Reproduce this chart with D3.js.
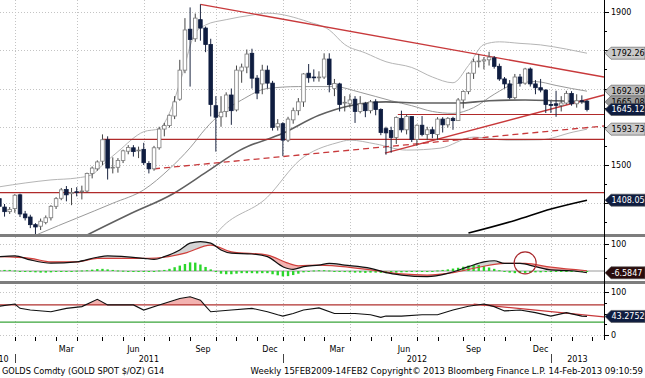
<!DOCTYPE html>
<html>
<head>
<meta charset="utf-8">
<script src="https://cdn.jsdelivr.net/npm/d3@7"></script>
<style>
body { margin: 0; background: #fff; }
svg { display: block; font-family: "DejaVu Sans", Verdana, sans-serif; }
</style>
</head>
<body>
<div id="chart"></div>
<script>
// ---- data (weekly bars, first bar = week ending 10 Dec 2010) ----
var firstWeek = Date.UTC(2010, 11, 10);

var candleOpen = [1412,1390,1378,1386,1422,1372,1364,1344,1340,1350,1362,1392,1413,1436,1425,1430,1430,1432,1478,1490,
  1510,1566,1492,1494,1512,1536,1545,1537,1541,1504,1490,1545,1594,1603,1628,1672,1748,1855,1830,1880,
  1858,1815,1655,1626,1640,1683,1644,1746,1756,1792,1727,1712,1748,1714,1600,1608,1565,1618,1642,1665,
  1740,1730,1728,1730,1777,1700,1712,1662,1660,1672,1640,1660,1642,1665,1645,1595,1590,1572,1622,1592,
  1627,1567,1604,1580,1592,1580,1620,1605,1622,1616,1670,1692,1740,1770,1772,1775,1780,1758,1725,1712,
  1676,1730,1714,1751,1712,1702,1696,1658,1660,1656,1662,1687,1660,1668,1667];
var candleHigh = [1418,1398,1390,1424,1425,1380,1370,1348,1360,1368,1395,1416,1440,1445,1440,1442,1446,1480,1496,1512,
  1580,1575,1520,1518,1540,1552,1552,1548,1558,1510,1550,1600,1610,1632,1680,1775,1884,1912,1896,1920,
  1862,1830,1680,1680,1690,1700,1760,1765,1802,1804,1735,1762,1760,1720,1620,1612,1626,1650,1675,1740,
  1764,1750,1745,1792,1792,1725,1715,1680,1685,1680,1680,1665,1670,1672,1648,1600,1600,1627,1642,1632,
  1628,1606,1628,1600,1600,1625,1625,1625,1626,1675,1695,1742,1778,1790,1782,1796,1785,1765,1730,1722,
  1738,1738,1754,1755,1722,1725,1698,1668,1694,1680,1694,1693,1685,1682,1670];
var candleLow = [1380,1365,1372,1375,1364,1355,1335,1318,1330,1345,1355,1385,1408,1405,1395,1418,1410,1428,1465,1485,
  1500,1462,1478,1480,1505,1528,1522,1518,1500,1478,1485,1540,1575,1598,1620,1668,1740,1705,1822,1825,
  1795,1627,1535,1600,1625,1605,1640,1715,1740,1700,1672,1685,1700,1590,1590,1523,1560,1608,1630,1652,
  1715,1718,1718,1725,1690,1680,1640,1640,1650,1610,1635,1625,1635,1630,1578,1527,1532,1555,1585,1580,
  1560,1550,1575,1565,1570,1565,1585,1598,1592,1615,1648,1685,1725,1755,1750,1760,1752,1720,1700,1672,
  1672,1705,1710,1705,1685,1690,1636,1636,1626,1640,1658,1655,1650,1660,1640];
var candleClose = [1392,1378,1384,1421,1372,1362,1344,1338,1353,1362,1392,1412,1435,1422,1428,1429,1432,1478,1492,1508,
  1566,1492,1494,1512,1537,1546,1535,1539,1506,1490,1545,1594,1603,1630,1665,1748,1853,1828,1884,1858,
  1815,1658,1625,1638,1683,1642,1748,1756,1790,1727,1688,1748,1714,1598,1608,1565,1620,1642,1665,1738,
  1728,1728,1730,1777,1710,1713,1658,1664,1670,1640,1660,1642,1665,1645,1585,1584,1572,1624,1592,1627,
  1567,1604,1580,1592,1582,1620,1605,1622,1616,1670,1692,1740,1770,1772,1775,1782,1758,1725,1712,1676,
  1730,1714,1751,1712,1702,1696,1658,1657,1656,1662,1687,1660,1668,1667,1645.12];

// overlay studies, [week number, value]
var upperBand = [[0,1443],[5,1453],[10,1461],[15,1466],[18,1475],[20,1500],[23,1535],[28,1587],[31,1595],[33,1636],
  [35,1714],[38,1845],[40,1866],[44,1880],[49,1892],[52,1897],[60,1874],[64,1853],[67,1815],[71,1793],[75,1770],
  [80,1755],[84,1730],[88,1715],[91,1760],[94,1815],[97,1822],[101,1818],[105,1814],[110,1803],[114,1792.26]];
var midBand = [[7,1316],[8,1322],[15,1361],[22,1400],[28,1435],[33,1490],[37,1545],[40,1595],[43,1635],[47,1670],
  [52,1700],[58,1705],[65,1705],[70,1690],[76,1668],[80,1655],[84,1640],[88,1635],[92,1650],[96,1685],[100,1712],
  [104,1718],[108,1708],[111,1700],[114,1692.99]];
var lowerBand = [[41,1300],[42.2,1322],[52,1416],[58.3,1513],[65.5,1558],[68,1565],[73,1555],[79,1539],[85.5,1544],
  [92,1573],[98.5,1565],[105,1566],[111.3,1586],[114,1593.73]];
var ma52 = [[16,1310],[17.6,1321],[25,1370],[33.7,1425],[40,1480],[46.7,1539],[55,1583],[62,1630],[68,1655],[75,1665],
  [82,1662],[89,1662],[95,1668],[102,1670],[108,1668],[114,1665.08]];
var ma200 = [[91,1322],[100,1355],[107,1385],[114,1408.05]];

// hand drawn lines, [week number, price]
var trendDown = [[39,1920],[117.3,1730]];
var trendUp = [[74.8,1531],[117.3,1683]];
var trendDashed = [[30,1490],[117.3,1602]];
var levelLines = [[20,1567],[77.3,1632],[-5,1428]];

// MACD panel, [week number, value]
var macdLine = [[0,53],[3,56],[6,41],[10,29],[15,34],[19,51],[21,56],[28,47],[30,43],[32,53],[35,78],[37,103],
  [39,109],[41,103],[43,78],[45,66],[49,63],[52,53],[55,16],[57,6],[59,16],[62,22],[64,28],[67,22],[72,10],
  [75,-6],[78,-15],[83,-21],[87,-9],[91,16],[94,34],[96,38],[98,28],[101,28],[104,16],[107,4],[111,1],[114,-6.5847]];
var signalLine = [[0,53],[6,47],[10,34],[15,34],[19,47],[29,47],[32,51],[36,66],[41,96],[45,71],[52,59],[56,29],
  [58,19],[62,22],[65,19],[72,4],[78,-11],[83,-15],[88,-6],[93,14],[98,28],[102,28],[107,14],[114,1]];
var macdHist = [3,4,4,2,0,-2,-4,-5,-6,-6,-5,-3,-2,-1,0,1,2,3,5,7,
  8,6,4,2,1,0,-1,-2,-2,-1,0,2,4,8,14,20,26,32,31,24,
  15,6,-4,-10,-12,-12,-10,-8,-8,-8,-9,-8,-8,-12,-16,-20,-19,-15,-10,-5,
  -1,2,3,3,2,0,-2,-4,-5,-6,-6,-7,-6,-6,-7,-8,-7,-6,-5,-4,
  -3,-2,-2,-1,0,2,4,6,9,12,16,20,22,22,18,13,8,3,-2,-6,
  -8,-8,-7,-6,-5,-5,-4,-4,-3,-3,-3,-2,-2,-3,-3];
var macdCircle = [102, 30];

// RSI panel, [week number, value]
var rsiLine = [[0,67],[3,72],[4,62],[6,58],[10,54],[13,62],[16,66],[19,83],[21,70],[26,70],[28,58],[31,70],[35,85],
  [37,89],[39,81],[40,67],[41,54],[45,58],[49,62],[52,54],[54,47],[55,44],[57,50],[59,58],[62,63],[65,50],[69,50],
  [72,47],[74,41],[75,44],[78,44],[82,47],[85,47],[88,58],[91,67],[94,72],[96,66],[98,56],[101,58],[104,52],[107,44],
  [110,52],[113,44],[114,43.2752]];
var rsiTrend = [[92,72],[117.3,42]];
var rsiLevels = [70, 30];

var priceTicks = [1400,1500,1600,1700,1800,1900];
var priceLabels = [1900, 1500];
var priceMinor = [1350,1450,1550,1650,1750,1850];

// ---- layout ----
var W = 645, H = 378, axisX = 604;
var weekMs = 7 * 864e5;
function weekDate(k) { return new Date(firstWeek + k * weekMs); }

var x = d3.scaleUtc().domain([weekDate(4), weekDate(114)]).range([20, 587]);
function xk(k) { return x(weekDate(k)); }
// time marks sit on the last weekly bar dated before the given day
function xSnap(d) { return xk(Math.ceil((d.getTime() - firstWeek) / weekMs) - 1); }
var yMain = d3.scaleLinear().domain([1400, 1900]).range([203.25, 12]);
var yMacd = d3.scaleLinear().domain([0, 100]).range([271, 244]);
var yRsi = d3.scaleLinear().domain([0, 100]).range([335, 292]);

var svg = d3.select("#chart").append("svg").attr("width", W).attr("height", H);

var defs = svg.append("defs");
function clip(id, y0, y1) {
  defs.append("clipPath").attr("id", id).append("rect")
    .attr("x", 0).attr("y", y0).attr("width", axisX).attr("height", y1 - y0);
}
clip("clipMain", 0, 234);
clip("clipMacd", 237, 281);
clip("clipRsi", 284, 337);

// ---- grid ----
var grid = svg.append("g").attr("stroke", "#c4c4c4").attr("stroke-dasharray", "1,2").attr("stroke-width", 1);
var quarters = d3.utcMonth.every(3).range(new Date(Date.UTC(2010, 9, 1)), new Date(Date.UTC(2013, 3, 1)))
  .filter(function(d) { return xSnap(d) > 0 && xSnap(d) < axisX; });
quarters.forEach(function(d) {
  var gx = Math.round(xSnap(d)) + 0.5;
  grid.append("line").attr("x1", gx).attr("x2", gx).attr("y1", 0).attr("y2", 336);
});
priceTicks.forEach(function(p) {
  grid.append("line").attr("x1", 0).attr("x2", axisX).attr("y1", Math.round(yMain(p)) + 0.5).attr("y2", Math.round(yMain(p)) + 0.5);
});
[yMacd(100), yRsi(100), yRsi(0)].forEach(function(gy) {
  grid.append("line").attr("x1", 0).attr("x2", axisX).attr("y1", Math.round(gy) + 0.5).attr("y2", Math.round(gy) + 0.5);
});

// ---- main panel ----
var main = svg.append("g").attr("clip-path", "url(#clipMain)");

var studyLine = d3.line().x(function(d) { return xk(d[0]); }).y(function(d) { return yMain(d[1]); }).curve(d3.curveMonotoneX);
main.append("path").attr("d", studyLine(upperBand)).attr("fill", "none").attr("stroke", "#b5b5b5").attr("stroke-width", 1);
main.append("path").attr("d", studyLine(lowerBand)).attr("fill", "none").attr("stroke", "#b5b5b5").attr("stroke-width", 1);
main.append("path").attr("d", studyLine(midBand)).attr("fill", "none").attr("stroke", "#9a9a9a").attr("stroke-width", 1);
main.append("path").attr("d", studyLine(ma52)).attr("fill", "none").attr("stroke", "#606060").attr("stroke-width", 1.6);
main.append("path").attr("d", studyLine(ma200)).attr("fill", "none").attr("stroke", "#000").attr("stroke-width", 1.6);

// red annotations
var straight = d3.line().x(function(d) { return xk(d[0]); }).y(function(d) { return yMain(d[1]); });
main.append("path").attr("d", straight(trendDown)).attr("stroke", "#c8393b").attr("stroke-width", 1.3).attr("fill", "none");
main.append("path").attr("d", straight(trendUp)).attr("stroke", "#c8393b").attr("stroke-width", 1.3).attr("fill", "none");
main.append("path").attr("d", straight(trendDashed)).attr("stroke", "#c8393b").attr("stroke-width", 1.3)
  .attr("stroke-dasharray", "6,4").attr("fill", "none");
levelLines.forEach(function(l) {
  main.append("line").attr("x1", xk(l[0])).attr("x2", axisX).attr("y1", yMain(l[1])).attr("y2", yMain(l[1]))
    .attr("stroke", "#b02a2a").attr("stroke-width", 1.2);
});

// candles
var bodyW = 3.6;
var candles = main.append("g");
candleOpen.forEach(function(o, k) {
  var c = candleClose[k], cx = xk(k), up = c >= o;
  candles.append("line").attr("x1", cx).attr("x2", cx)
    .attr("y1", yMain(candleHigh[k])).attr("y2", yMain(candleLow[k]))
    .attr("stroke", up ? "#444" : "#1b2540").attr("stroke-width", 1);
  var top = yMain(Math.max(o, c)), bot = yMain(Math.min(o, c));
  candles.append("rect").attr("x", cx - bodyW / 2).attr("y", top)
    .attr("width", bodyW).attr("height", Math.max(bot - top, 0.8))
    .attr("fill", up ? "#fff" : "#0f1d40").attr("stroke", up ? "#7b7b7b" : "#0f1d40").attr("stroke-width", 0.8);
});

// ---- MACD panel ----
var macd = svg.append("g").attr("clip-path", "url(#clipMacd)");
var mLine = d3.line().x(function(d) { return xk(d[0]); }).y(function(d) { return yMacd(d[1]); }).curve(d3.curveMonotoneX);
var areaTop = d3.area().x(function(d) { return xk(d[0]); }).y0(237).y1(function(d) { return yMacd(d[1]); }).curve(d3.curveMonotoneX);
var areaBot = d3.area().x(function(d) { return xk(d[0]); }).y0(281).y1(function(d) { return yMacd(d[1]); }).curve(d3.curveMonotoneX);
defs.append("clipPath").attr("id", "belowMacd").append("path").attr("d", areaBot(macdLine));
defs.append("clipPath").attr("id", "aboveMacd").append("path").attr("d", areaTop(macdLine));
// macd above signal -> grey, below -> pink
macd.append("g").attr("clip-path", "url(#belowMacd)").append("path").attr("d", areaTop(signalLine)).attr("fill", "#d4d4d4");
macd.append("g").attr("clip-path", "url(#aboveMacd)").append("path").attr("d", areaBot(signalLine)).attr("fill", "#f3b2b0");

macd.append("line").attr("x1", 0).attr("x2", axisX).attr("y1", yMacd(0)).attr("y2", yMacd(0))
  .attr("stroke", "#9a9a9a").attr("stroke-width", 1);
macdHist.forEach(function(h, k) {
  var y0 = yMacd(0), y1 = yMacd(h);
  macd.append("rect").attr("x", xk(k) - 1.2).attr("y", Math.min(y0, y1)).attr("width", 2.4)
    .attr("height", Math.max(Math.abs(y1 - y0), 1)).attr("fill", "#2bd62b");
});
macd.append("path").attr("d", mLine(signalLine)).attr("fill", "none").attr("stroke", "#d0403c").attr("stroke-width", 1.2);
macd.append("path").attr("d", mLine(macdLine)).attr("fill", "none").attr("stroke", "#111").attr("stroke-width", 1.2);
macd.append("circle").attr("cx", xk(macdCircle[0])).attr("cy", yMacd(macdCircle[1])).attr("r", 11)
  .attr("fill", "none").attr("stroke", "#a8262a").attr("stroke-width", 1.1);

// ---- RSI panel ----
var rsi = svg.append("g").attr("clip-path", "url(#clipRsi)");
var rLine = d3.line().x(function(d) { return xk(d[0]); }).y(function(d) { return yRsi(d[1]); });
defs.append("clipPath").attr("id", "over70").append("rect").attr("x", 0).attr("y", 284).attr("width", axisX).attr("height", yRsi(70) - 284);
rsi.append("path").attr("clip-path", "url(#over70)")
  .attr("d", d3.area().x(function(d) { return xk(d[0]); }).y0(yRsi(70)).y1(function(d) { return yRsi(d[1]); })(rsiLine))
  .attr("fill", "#f3b2b0");
rsi.append("line").attr("x1", 0).attr("x2", axisX).attr("y1", yRsi(rsiLevels[0])).attr("y2", yRsi(rsiLevels[0]))
  .attr("stroke", "#b0302e").attr("stroke-width", 1.2);
rsi.append("line").attr("x1", 0).attr("x2", axisX).attr("y1", yRsi(rsiLevels[1])).attr("y2", yRsi(rsiLevels[1]))
  .attr("stroke", "#3aa43a").attr("stroke-width", 1.2);
rsi.append("path").attr("d", rLine(rsiTrend)).attr("fill", "none").attr("stroke", "#c8393b").attr("stroke-width", 1.2);
rsi.append("path").attr("d", rLine(rsiLine)).attr("fill", "none").attr("stroke", "#111").attr("stroke-width", 1.1);

// ---- panel separators & right axis ----
svg.append("rect").attr("x", 0).attr("y", 234).attr("width", W).attr("height", 3).attr("fill", "#7d7d7d");
svg.append("rect").attr("x", 0).attr("y", 281).attr("width", W).attr("height", 3).attr("fill", "#7d7d7d");
svg.append("line").attr("x1", axisX + 0.5).attr("x2", axisX + 0.5).attr("y1", 0).attr("y2", 340).attr("stroke", "#000");

var axisG = svg.append("g").attr("font-size", 8).attr("fill", "#000");
function rTick(y, len) {
  axisG.append("line").attr("x1", axisX).attr("x2", axisX + len).attr("y1", Math.round(y) + 0.5).attr("y2", Math.round(y) + 0.5).attr("stroke", "#000");
}
function rLabel(y, t) {
  axisG.append("text").attr("x", axisX + 7).attr("y", y).attr("dy", "0.35em").text(t);
}
priceTicks.forEach(function(p) { rTick(yMain(p), 5); });
priceLabels.forEach(function(p) { rLabel(yMain(p), p); });
priceMinor.forEach(function(p) { rTick(yMain(p), 3); });
rTick(yMacd(100), 5); rLabel(yMacd(100), "100");
rTick(yMacd(50), 3);
[0, 25, 50, 75, 100].forEach(function(v) { rTick(yRsi(v), v % 50 === 0 ? 5 : 3); });
rLabel(yRsi(100), "100"); rLabel(yRsi(0), "0");

// last value tags
function tag(y, txt, fill, color) {
  var g = svg.append("g");
  g.append("path").attr("d", "M" + (axisX + 1) + "," + y + "L" + (axisX + 7) + "," + (y - 6) + "L" + W + "," + (y - 6) +
    "L" + W + "," + (y + 6) + "L" + (axisX + 7) + "," + (y + 6) + "Z")
    .attr("fill", fill).attr("stroke", "#555").attr("stroke-width", 0.6);
  g.append("text").attr("x", axisX + 7.5).attr("y", y).attr("dy", "0.36em").attr("font-size", 8)
    .attr("fill", color).text(txt);
}
tag(yMain(upperBand[upperBand.length - 1][1]), "1792.26", "#c9c9c9", "#000");
tag(yMain(midBand[midBand.length - 1][1]), "1692.99", "#bdbdbd", "#000");
tag(yMain(ma52[ma52.length - 1][1]), "1665.08", "#9a9a9a", "#000");
tag(yMain(candleClose[candleClose.length - 1]), "1645.12", "#0f1d40", "#fff");
tag(yMain(lowerBand[lowerBand.length - 1][1]), "1593.73", "#c9c9c9", "#000");
tag(yMain(ma200[ma200.length - 1][1]), "1408.05", "#0f1d40", "#fff");
tag(yMacd(macdLine[macdLine.length - 1][1]), "-6.5847", "#2a0c0c", "#fff");
tag(yRsi(rsiLine[rsiLine.length - 1][1]), "43.2752", "#0f1d40", "#fff");

// ---- time axis ----
var months = d3.utcMonth.range(new Date(Date.UTC(2010, 11, 1)), new Date(Date.UTC(2013, 3, 1)));
var tAxis = svg.append("g").attr("font-size", 8).attr("fill", "#000");
months.forEach(function(d) {
  var tx = Math.round(xSnap(d)) + 0.5;
  if (tx < 0 || tx > axisX) return;
  tAxis.append("line").attr("x1", tx).attr("x2", tx).attr("y1", 337).attr("y2", 341).attr("stroke", "#000");
});
var monthNames = { 2: "Mar", 5: "Jun", 8: "Sep", 11: "Dec" };
months.forEach(function(d) {
  if (!monthNames[d.getUTCMonth()] || xSnap(d) < 30 || xSnap(d) > 560) return;
  var mid = (xSnap(d) + xSnap(d3.utcMonth.offset(d, 1))) / 2;
  tAxis.append("text").attr("x", mid).attr("y", 352).attr("text-anchor", "middle").text(monthNames[d.getUTCMonth()]);
});
var years = [2010, 2011, 2012, 2013];
years.forEach(function(yr) {
  var a = Math.max(xSnap(new Date(Date.UTC(yr, 0, 1))), -18), b = Math.min(xSnap(new Date(Date.UTC(yr + 1, 0, 1))), axisX);
  tAxis.append("text").attr("x", (a + b) / 2).attr("y", 362).attr("text-anchor", "middle").text(yr);
  if (yr > 2010) {
    var sx = Math.round(xSnap(new Date(Date.UTC(yr, 0, 1)))) + 0.5;
    tAxis.append("line").attr("x1", sx).attr("x2", sx).attr("y1", 354).attr("y2", 363).attr("stroke", "#444");
  }
});
tAxis.append("text").attr("x", 2).attr("y", 374).attr("font-size", 8.2).text("GOLDS Comdty (GOLD SPOT $/OZ) G14");
tAxis.append("text").attr("x", 643).attr("y", 374).attr("text-anchor", "end").attr("font-size", 8.5)
  .text("Weekly 15FEB2009-14FEB2  Copyright\u00a9 2013 Bloomberg Finance L.P.  14-Feb-2013 09:10:59");
</script>
</body>
</html>
